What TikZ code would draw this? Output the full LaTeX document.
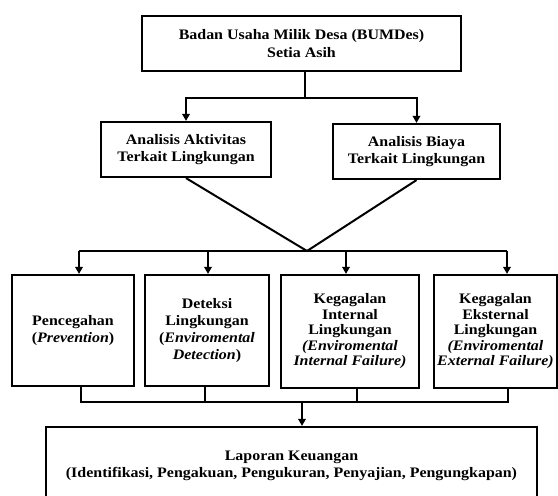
\documentclass[tikz,border=0pt]{standalone}
\usepackage{fontspec}
\setmainfont{Liberation Serif}[FakeStretch=1.1]
\usetikzlibrary{arrows.meta}
\begin{document}
\begin{tikzpicture}[x=1bp,y=-1bp,
  box/.style={draw, line width=2.2bp, align=center, inner sep=1bp,
    font=\fontsize{14.5bp}{17bp}\selectfont\bfseries},
  tight/.style={font=\fontsize{14.5bp}{15.5bp}\selectfont\bfseries},
  conn/.style={line width=2bp},
  arr/.style={conn, -{Triangle[width=7.5bp,length=7bp]}}]
\useasboundingbox (0,0) rectangle (558,496);
\clip (0,0) rectangle (558,496);
% boxes
\node[box, minimum width=319bp, minimum height=55bp, font=\fontsize{14.5bp}{18bp}\selectfont\bfseries] (top) at (301.5,43.5)
  {Badan Usaha Milik Desa (BUMDes)\\Setia Asih};
\node[box, minimum width=170bp, minimum height=55bp] (ana) at (186,149.5)
  {Analisis Aktivitas\\Terkait Lingkungan};
\node[box, minimum width=167bp, minimum height=55bp] (anb) at (416.5,151.5)
  {Analisis Biaya\\Terkait Lingkungan};
\node[box, minimum width=122bp, minimum height=111bp] (b1) at (73,330.5)
  {Pencegahan\\(\textit{Prevention})};
\node[box, minimum width=124bp, minimum height=111bp] (b2) at (207,330.5)
  {Deteksi\\Lingkungan\\(\textit{Enviromental}\\\textit{Detection})};
\node[box, tight, minimum width=138bp, minimum height=113bp] (b3) at (350,331.5)
  {Kegagalan\\Internal\\Lingkungan\\\textit{(Enviromental}\\\textit{Internal Failure)}};
\node[box, tight, minimum width=123bp, minimum height=113bp] (b4) at (495.5,331.5)
  {Kegagalan\\Eksternal\\Lingkungan\\\textit{(Enviromental}\\\textit{External Failure)}};
\node[box, minimum width=491bp, minimum height=78bp] (lap) at (291.5,466)
  {Laporan Keuangan\\(Identifikasi, Pengakuan, Pengukuran, Penyajian, Pengungkapan)};
% top fork
\coordinate (j1) at (305,98);
\draw[conn] (j1 |- top.south) -- (j1);
\draw[arr] (j1) -| (ana.north);
\draw[arr] (j1) -| (anb.north);
% diagonals to apex
\coordinate (apex) at (307,251);
\draw[conn] (ana.south) -- (apex);
\draw[conn] (anb.south) -- (apex);
% distribution line
\coordinate (h1) at (79,251);
\coordinate (h2) at (208,251);
\coordinate (h3) at (346,251);
\coordinate (h4) at (507,251);
\draw[conn] (h1) -- (h4);
\draw[arr] (h1) -- (h1 |- b1.north);
\draw[arr] (h2) -- (h2 |- b2.north);
\draw[arr] (h3) -- (h3 |- b3.north);
\draw[arr] (h4) -- (h4 |- b4.north);
% collection line
\coordinate (c1) at (81,402);
\coordinate (c2) at (205,402);
\coordinate (c3) at (357,402);
\coordinate (c4) at (508,402);
\coordinate (cm) at (302,402);
\draw[conn] (c1 |- b1.south) -- (c1) -- (c4) -- (c4 |- b4.south);
\draw[conn] (c2 |- b2.south) -- (c2);
\draw[conn] (c3 |- b3.south) -- (c3);
\draw[arr] (cm) -- (cm |- lap.north);
\end{tikzpicture}
\end{document}
